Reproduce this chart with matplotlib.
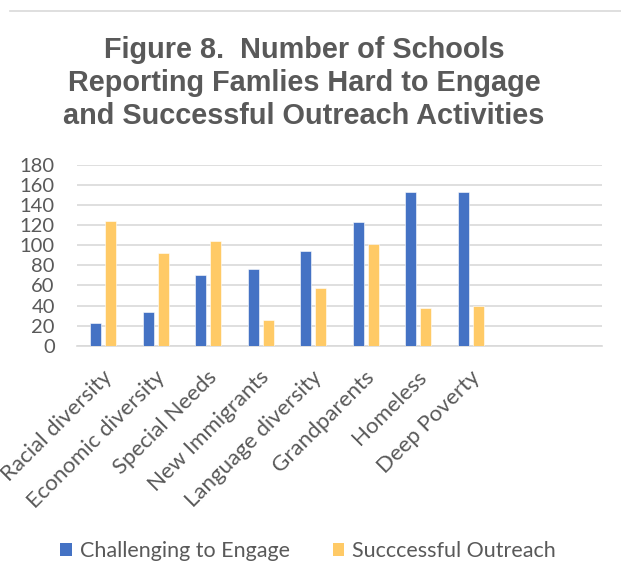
import matplotlib
matplotlib.use("Agg")
import matplotlib.pyplot as plt
import matplotlib.transforms as mtransforms
from matplotlib.lines import Line2D
from matplotlib.patches import Patch
import numpy as np

categories = ["Racial diversity", "Economic diversity", "Special Needs", "New Immigrants",
              "Language diversity", "Grandparents", "Homeless", "Deep Poverty", "", ""]
challenging = [23, 34, 70, 76, 94, 123, 153, 153]
successful = [124, 92, 104, 26, 57, 101, 38, 40]
series_names = ["Challenging to Engage", "Succcessful Outreach"]
yticks = [0, 20, 40, 60, 80, 100, 120, 140, 160, 180]
title_lines = ["Figure 8.  Number of Schools",
               "Reporting Famlies Hard to Engage",
               "and Successful Outreach Activities"]

BLUE = "#4472C4"
GOLD = "#FFCA66"
GREY = "#595959"
GRID = "#D9D9D9"
FONT = "Lato"
W, H = 621, 584

fig = plt.figure(figsize=(W / 100, H / 100), dpi=100)
ax = fig.add_axes([77 / W, 1 - 345.7 / H, (602 - 77) / W, (345.7 - 165) / H])

n = len(challenging)
x = np.arange(n)
off = 0.143
w = 0.215
ax.bar(x - off, challenging, width=w, color=BLUE, edgecolor="white", linewidth=0.4, zorder=3)
ax.bar(x + off, successful, width=w, color=GOLD, edgecolor="white", linewidth=0.4, zorder=3)

ax.set_xlim(-0.5, len(categories) - 0.5)
ax.set_ylim(0, 180)
ax.set_yticks(yticks)
ax.set_yticklabels([str(t) for t in yticks], fontsize=14.5, color=GREY, family=FONT)
ax.grid(axis="y", color=GRID, linewidth=1.2, zorder=0)
ax.set_axisbelow(True)
for s in ["top", "right", "left"]:
    ax.spines[s].set_visible(False)
ax.spines["bottom"].set_color(GRID)
ax.spines["bottom"].set_linewidth(1.2)
ax.tick_params(axis="y", length=0, pad=16)
ax.set_xticks([])

# category labels, rotated 45 degrees
base = mtransforms.blended_transform_factory(ax.transData, ax.transAxes)
shift = mtransforms.ScaledTranslation(-1.5 / 100, -21 / 100, fig.dpi_scale_trans)
for i, lab in enumerate(categories):
    ax.text(i, 0, lab, transform=base + shift, rotation=45, ha="right", va="top",
            rotation_mode="anchor", fontsize=16, color=GREY, family=FONT, clip_on=False)

baselines = [57.7, 91.0, 124.3]
for line, yb in zip(title_lines, baselines):
    fig.text(304 / W, 1 - yb / H, line, ha="center", va="baseline",
             fontsize=20.8, fontweight="bold", color=GREY, family="Liberation Sans")

# thin line at top
fig.add_artist(Line2D([10 / W, 1.0], [1 - 11 / H, 1 - 11 / H], color=GRID, linewidth=1.2))

handles = [Patch(facecolor=BLUE), Patch(facecolor=GOLD)]
leg = fig.legend(handles, series_names, loc="center", bbox_to_anchor=(308 / W, 1 - 551 / H),
                 ncol=2, frameon=False, handlelength=0.55, handleheight=0.55, handletextpad=0.35,
                 columnspacing=2.0, borderpad=0, prop={"family": FONT, "size": 15.5})
for t in leg.get_texts():
    t.set_color(GREY)

fig.savefig("out.png", dpi=100)
